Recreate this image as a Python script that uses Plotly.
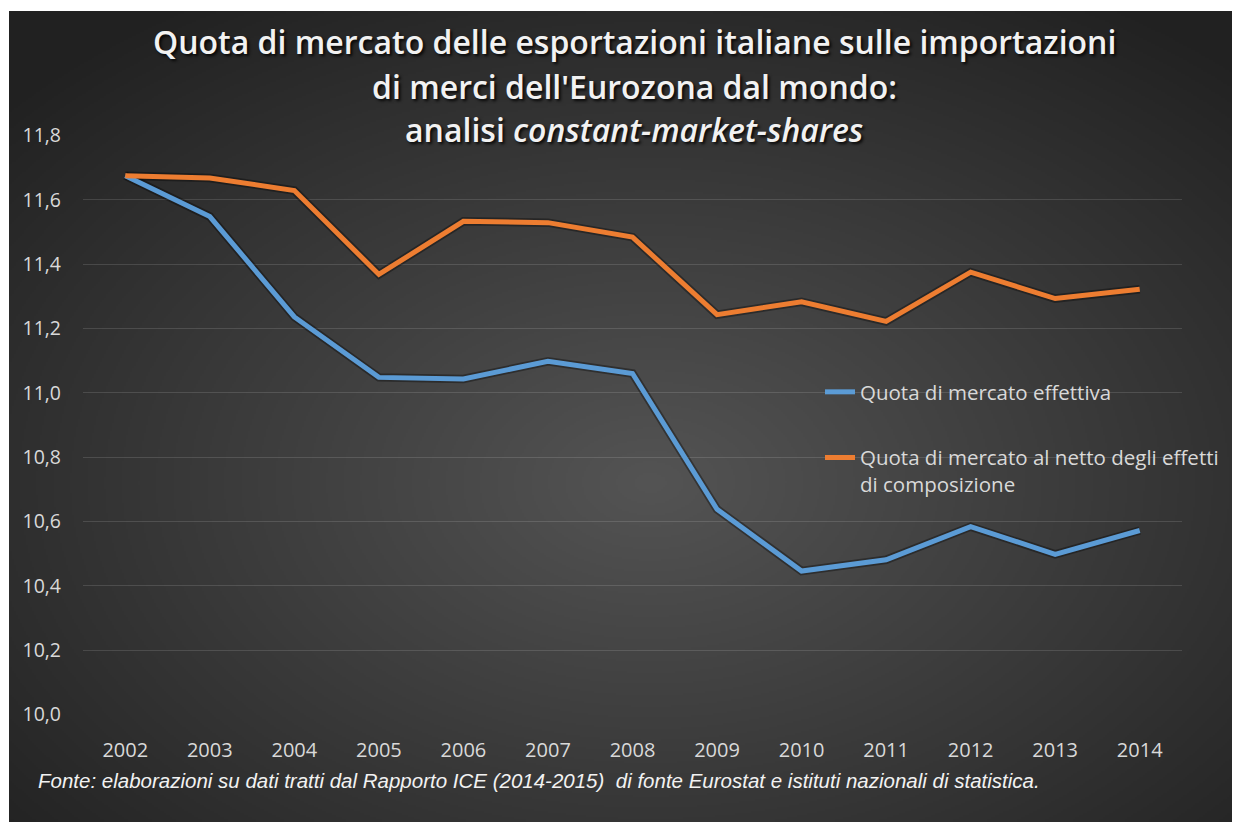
import base64
import struct
import zlib

import numpy as np
import plotly.graph_objects as go

# ---------------- data ----------------
years = ["2002", "2003", "2004", "2005", "2006", "2007", "2008",
         "2009", "2010", "2011", "2012", "2013", "2014"]
quota_effettiva = [11.675, 11.548, 11.236, 11.048, 11.043, 11.098, 11.060,
                   10.638, 10.446, 10.481, 10.584, 10.498, 10.572]
quota_netto = [11.675, 11.668, 11.629, 11.368, 11.533, 11.529, 11.484,
               11.243, 11.283, 11.222, 11.375, 11.293, 11.322]
series_names = ["Quota di mercato effettiva",
                "Quota di mercato al netto degli effetti<br>di composizione"]
title_lines = ["Quota di mercato delle esportazioni italiane sulle importazioni",
               "di merci dell'Eurozona dal mondo:",
               "analisi <i>constant-market-shares</i>"]
footer = ("Fonte: elaborazioni su dati tratti dal Rapporto ICE (2014-2015)  "
          "di fonte Eurostat e istituti nazionali di statistica.")
y_ticks = [10.0, 10.2, 10.4, 10.6, 10.8, 11.0, 11.2, 11.4, 11.6, 11.8]

# ---------------- layout geometry ----------------
# The page body has an 8px margin, so the figure is drawn 8px in from the
# window's top-left corner; all window coordinates below are shifted by OFF.
OFF = 8
W, H = 1240 - OFF, 822 - OFF
PLOT_L, PLOT_R, PLOT_T, PLOT_B = 83, 1182, 135, 715     # window px
ML, MR = PLOT_L - OFF, W - (PLOT_R - OFF)
MT, MB = PLOT_T - OFF, H - (PLOT_B - OFF)
PW, PH = W - ML - MR, H - MT - MB
BG_X0, BG_Y0 = 9, 11  # dark panel starts here in window px


def px2paper_x(px):
    return (px - OFF - ML) / PW


def px2paper_y(py):
    return (H - MB - (py - OFF)) / PH


# ---------------- radial gradient background as PNG ----------------
def gradient_png(w, h):
    yy, xx = np.mgrid[0:h, 0:w].astype(float)
    cx, cy = w * 0.52, h * 0.58
    d = np.sqrt(((xx - cx) / (w / 2)) ** 2 + ((yy - cy) / (h / 2)) ** 2) / np.sqrt(2)
    d = np.clip(d, 0, 1)
    c_in = np.array([84, 84, 84], float)
    c_out = np.array([33, 33, 33], float)
    img = (c_in[None, None, :] * (1 - d[..., None]) + c_out[None, None, :] * d[..., None])
    img = img.astype(np.uint8)
    raw = b"".join(b"\x00" + img[r].tobytes() for r in range(h))

    def chunk(tag, data):
        c = struct.pack(">I", len(data)) + tag + data
        return c + struct.pack(">I", zlib.crc32(tag + data) & 0xFFFFFFFF)

    png = b"\x89PNG\r\n\x1a\n"
    png += chunk(b"IHDR", struct.pack(">IIBBBBB", w, h, 8, 2, 0, 0, 0))
    png += chunk(b"IDAT", zlib.compress(raw, 9))
    png += chunk(b"IEND", b"")
    return "data:image/png;base64," + base64.b64encode(png).decode()


bg_w, bg_h = 1240 - BG_X0, 822 - BG_Y0
bg_uri = gradient_png(bg_w // 2, bg_h // 2)

# ---------------- figure ----------------
BLUE = "#5B9BD5"
ORANGE = "#ED7D31"
TXT = "#d9d9d9"

fig = go.Figure()

# soft dark halos under the lines (shadow effect)
for vals in (quota_effettiva, quota_netto):
    fig.add_trace(go.Scatter(x=years, y=vals, mode="lines",
                             line=dict(color="rgba(0,0,0,0.35)", width=8.5),
                             hoverinfo="skip", showlegend=False))

fig.add_trace(go.Scatter(x=years, y=quota_effettiva, mode="lines",
                         name=series_names[0], legendgroup="a",
                         line=dict(color=BLUE, width=5)))
fig.add_trace(go.Scatter(x=years, y=quota_netto, mode="lines",
                         name=series_names[1], legendgroup="b",
                         line=dict(color=ORANGE, width=5)))

annotations = []
title_y_px = [42, 86, 129]
for line, ypx in zip(title_lines, title_y_px):
    annotations.append(dict(
        text=line, xref="paper", yref="paper", x=px2paper_x(634), y=px2paper_y(ypx),
        xanchor="center", yanchor="middle", showarrow=False,
        font=dict(family="Open Sans", size=32, color="#f2f2f2", weight=600,
                  shadow="2px 2px 3px rgba(0,0,0,0.85)")))
annotations.append(dict(
    text=footer, xref="paper", yref="paper", x=px2paper_x(36), y=px2paper_y(780),
    xanchor="left", yanchor="middle", showarrow=False,
    font=dict(family="Liberation Sans Narrow, Arial Narrow, Liberation Sans",
              size=20.5, color="#f2f2f2", style="italic")))

fig.update_layout(
    width=W, height=H,
    margin=dict(l=ML, r=MR, t=MT, b=MB, autoexpand=False),
    paper_bgcolor="white",
    plot_bgcolor="rgba(0,0,0,0)",
    separators=",.",
    showlegend=True,
    legend=dict(x=px2paper_x(820), y=px2paper_y(372), xanchor="left", yanchor="top",
                bgcolor="rgba(0,0,0,0)", traceorder="grouped", tracegroupgap=36,
                valign="top", itemwidth=30,
                font=dict(family="Open Sans", size=20.5, color=TXT)),
    images=[dict(source=bg_uri, xref="paper", yref="paper",
                 x=px2paper_x(BG_X0), y=px2paper_y(BG_Y0),
                 sizex=bg_w / PW, sizey=bg_h / PH,
                 xanchor="left", yanchor="top", sizing="stretch", layer="below")],
    annotations=annotations,
    xaxis=dict(type="category", range=[-0.5, len(years) - 0.5],
               showgrid=False, showline=False, zeroline=False, ticks="",
               ticklabelstandoff=21,
               tickfont=dict(family="Open Sans", size=20, color=TXT)),
    yaxis=dict(range=[9.9985, 11.8015], tickvals=y_ticks, tickformat=".1f",
               showgrid=True, gridcolor="rgba(255,255,255,0.13)", gridwidth=1,
               showline=False, zeroline=False, ticks="",
               ticklabelstandoff=21,
               tickfont=dict(family="Open Sans", size=19.5, color=TXT)),
)

fig.write_html("out.html")
